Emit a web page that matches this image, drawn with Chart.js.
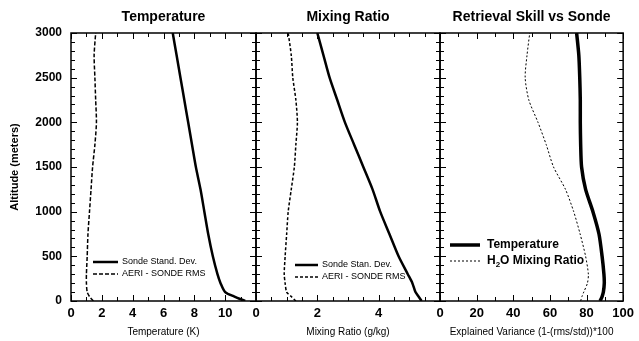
<!DOCTYPE html>
<html>
<head>
<meta charset="utf-8">
<script src="https://cdn.jsdelivr.net/npm/chart.js@4.4.1/dist/chart.umd.min.js"></script>
<style>
  html, body { margin: 0; padding: 0; background: #fff; }
  #wrap { position: relative; width: 639px; height: 341px; }
  #wrap canvas { position: absolute; left: 0; top: 0; }
</style>
</head>
<body>
<div id="wrap">
  <canvas id="c1" width="639" height="341"></canvas>
  <canvas id="c2" width="639" height="341"></canvas>
  <canvas id="c3" width="639" height="341"></canvas>
</div>
<script>
// altitude levels (m) shared by every profile
const altitude = [0, 50, 100, 200, 300, 500, 750, 1000, 1250, 1500, 1750, 2000, 2250, 2500, 2750, 3000]

// Temperature panel (K)
const tempSondeSD = [11.3, 10.6, 10.0, 9.7, 9.5, 9.2, 8.9, 8.65, 8.4, 8.1, 7.85, 7.6, 7.35, 7.1, 6.85, 6.6]
const tempAeriRms = [1.45, 1.2, 1.05, 1.0, 1.0, 1.05, 1.1, 1.2, 1.3, 1.4, 1.55, 1.65, 1.6, 1.55, 1.5, 1.6]

// Mixing ratio panel (g/kg)
const mrSondeSD = [5.4, 5.3, 5.2, 5.1, 4.95, 4.65, 4.35, 4.05, 3.8, 3.5, 3.2, 2.9, 2.65, 2.4, 2.2, 2.0]
const mrAeriRms = [1.3, 1.15, 1.0, 0.95, 0.92, 0.95, 1.0, 1.05, 1.15, 1.25, 1.3, 1.35, 1.3, 1.2, 1.15, 1.05]

// Retrieval skill panel (explained variance, %)
const skillTemp = [87.4, 88.5, 89.2, 89.7, 89.5, 88.5, 86.8, 83.5, 79.5, 77.3, 76.8, 76.6, 76.6, 76.3, 75.8, 74.6]
const skillH2O = [76.8, 77.5, 78.5, 80.5, 81, 79.5, 76.5, 73, 68.5, 62, 58, 53.5, 48.5, 46.5, 47.5, 49]

const altTicks = [0, 500, 1000, 1500, 2000, 2500, 3000]

const FONT = "'Liberation Sans', Arial, sans-serif"

const profile = (vals) => vals.map((v, i) => ({ x: v, y: altitude[i] }))

// frame with inward tick marks on all four sides
const frameTicks = {
  id: 'frameTicks',
  afterDatasetsDraw(chart, args, opts) {
    const { ctx, chartArea: a, scales } = chart
    const x = scales.x, y = scales.y
    ctx.save()
    ctx.strokeStyle = '#000'
    ctx.lineWidth = 1
    ctx.beginPath()
    for (let v = 0; v <= 3000; v += 100) {
      const py = Math.round(y.getPixelForValue(v)) + 0.5
      const len = v % 500 === 0 ? 6 : 4
      ctx.moveTo(a.left, py); ctx.lineTo(a.left + len, py)
      ctx.moveTo(a.right, py); ctx.lineTo(a.right - len, py)
    }
    const n = Math.round(opts.xMax / opts.minor)
    for (let i = 0; i <= n; i++) {
      const v = i * opts.minor
      const px = Math.round(x.getPixelForValue(v)) + 0.5
      const len = Math.abs(v / opts.major - Math.round(v / opts.major)) < 1e-6 ? 6 : 4
      ctx.moveTo(px, a.bottom); ctx.lineTo(px, a.bottom - len)
      ctx.moveTo(px, a.top); ctx.lineTo(px, a.top + len)
    }
    ctx.stroke()
    ctx.lineWidth = 1.5
    ctx.strokeRect(a.left, a.top, a.right - a.left, a.bottom - a.top)
    ctx.restore()
  }
}

// legend drawn inside the plot area
const innerLegend = {
  id: 'innerLegend',
  afterDatasetsDraw(chart, args, opts) {
    const { ctx, chartArea: a } = chart
    ctx.save()
    chart.data.datasets.forEach((ds, i) => {
      const yy = a.bottom - opts.rows[i]
      ctx.strokeStyle = '#000'
      ctx.lineWidth = ds.borderWidth
      ctx.setLineDash(ds.borderDash || [])
      ctx.beginPath()
      ctx.moveTo(a.left + opts.x0, yy)
      ctx.lineTo(a.left + opts.x1, yy)
      ctx.stroke()
      ctx.setLineDash([])
      ctx.fillStyle = '#000'
      ctx.font = opts.font
      ctx.textBaseline = 'middle'
      let tx = a.left + opts.tx
      const label = ds.label
      if (label.startsWith('H2O')) {
        ctx.fillText('H', tx, yy)
        tx += ctx.measureText('H').width
        const f = ctx.font
        ctx.font = opts.subFont
        ctx.fillText('2', tx, yy + 4)
        tx += ctx.measureText('2').width
        ctx.font = f
        ctx.fillText(label.slice(2), tx, yy)
      } else {
        ctx.fillText(label, tx, yy)
      }
    })
    ctx.restore()
  }
}

function makePanel(id, p) {
  return new Chart(document.getElementById(id), {
    type: 'line',
    data: {
      datasets: p.series.map((s) => ({
        label: s.label,
        data: profile(s.values),
        borderColor: '#000',
        borderWidth: s.width,
        borderDash: s.dash,
        pointRadius: 0,
        tension: 0.25,
        fill: false,
      })),
    },
    options: {
      responsive: false,
      animation: false,
      devicePixelRatio: 1,
      layout: { padding: { left: p.padLeft, right: p.padRight, top: 0, bottom: 0 } },
      plugins: {
        legend: { display: false },
        tooltip: { enabled: false },
        frameTicks: { xMax: p.xMax, minor: p.xMinor, major: p.xStep },
        innerLegend: p.legend,
      },
      scales: {
        x: {
          type: 'linear',
          position: 'bottom',
          min: 0,
          max: p.xMax,
          grid: { display: false, drawTicks: false },
          border: { display: false },
          ticks: {
            stepSize: p.xStep,
            autoSkip: false,
            maxRotation: 0,
            padding: 5,
            color: '#000',
            font: { family: FONT, size: 13, weight: 'bold' },
            callback: (v) => (p.hideLast && v === p.xMax ? '' : String(v)),
          },
          title: {
            display: true,
            text: p.xTitle,
            color: '#000',
            font: { family: FONT, size: 10 },
            padding: { top: 2, bottom: 3 },
          },
          afterFit: (s) => { s.height = 40 },
        },
        xTop: {
          type: 'linear',
          position: 'top',
          min: 0,
          max: p.xMax,
          grid: { display: false, drawTicks: false },
          border: { display: false },
          ticks: { display: false },
          title: {
            display: true,
            text: p.title,
            color: '#000',
            font: { family: FONT, size: 14, weight: 'bold' },
            padding: { top: 9, bottom: 0 },
          },
          afterFit: (s) => { s.height = 33 },
        },
        y: {
          type: 'linear',
          position: 'left',
          min: 0,
          max: 3000,
          afterBuildTicks: (s) => { s.ticks = altTicks.map((v) => ({ value: v })) },
          grid: { display: false, drawTicks: false },
          border: { display: false },
          ticks: {
            display: p.yLabels,
            padding: 9,
            color: '#000',
            font: { family: FONT, size: 12, weight: 'bold' },
            callback: (v) => String(v),
          },
          title: {
            display: p.yLabels,
            text: 'Altitude (meters)',
            color: '#000',
            font: { family: FONT, size: 11, weight: 'bold' },
            padding: { top: 8, bottom: 0 },
          },
          afterFit: (s) => { s.width = p.yWidth },
        },
      },
    },
    plugins: [frameTicks, innerLegend],
  })
}

makePanel('c1', {
  title: 'Temperature',
  xTitle: 'Temperature (K)',
  xMax: 12, xStep: 2, xMinor: 1, hideLast: true,
  padLeft: 0, padRight: 383, yWidth: 71, yLabels: true,
  series: [
    { label: 'Sonde Stand. Dev.', values: tempSondeSD, width: 2.5, dash: [] },
    { label: 'AERI - SONDE RMS', values: tempAeriRms, width: 1.5, dash: [4, 2] },
  ],
  legend: { x0: 22, x1: 47, tx: 51, rows: [39, 27], font: '9px ' + FONT },
})

makePanel('c2', {
  title: 'Mixing Ratio',
  xTitle: 'Mixing Ratio (g/kg)',
  xMax: 6, xStep: 2, xMinor: 0.5, hideLast: true,
  padLeft: 256, padRight: 199, yWidth: 0, yLabels: false,
  series: [
    { label: 'Sonde Stan. Dev.', values: mrSondeSD, width: 2.5, dash: [] },
    { label: 'AERI - SONDE RMS', values: mrAeriRms, width: 1.5, dash: [3, 2] },
  ],
  legend: { x0: 39, x1: 62, tx: 66, rows: [36, 24], font: '9px ' + FONT },
})

makePanel('c3', {
  title: 'Retrieval Skill vs Sonde',
  xTitle: 'Explained Variance (1-(rms/std))*100',
  xMax: 100, xStep: 20, xMinor: 10, hideLast: false,
  padLeft: 440, padRight: 14, yWidth: 0, yLabels: false,
  series: [
    { label: 'Temperature', values: skillTemp, width: 3.5, dash: [] },
    { label: 'H2O Mixing Ratio', values: skillH2O, width: 1, dash: [2, 2] },
  ],
  legend: { x0: 10, x1: 40, tx: 47, rows: [56, 40], font: 'bold 12px ' + FONT, subFont: 'bold 8px ' + FONT },
})
</script>
</body>
</html>
